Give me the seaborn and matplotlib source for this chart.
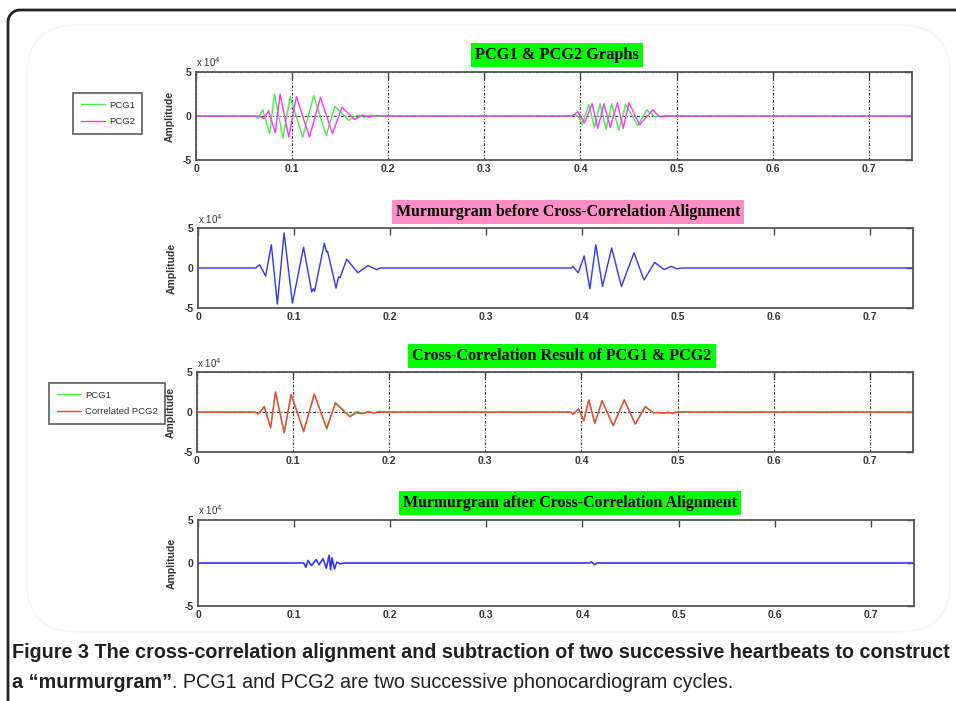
import numpy as np
import matplotlib
matplotlib.use("Agg")
import matplotlib.pyplot as plt
import seaborn as sns
from matplotlib.lines import Line2D
from matplotlib.patches import FancyBboxPatch

# ---------------- data (time in s, amplitude in x10^4) ----------------
# Panel 1: PCG1 & PCG2
pcg1_t = [0.0, 0.062, 0.0645, 0.0695, 0.0766, 0.0817, 0.0905, 0.098, 0.111, 0.1225, 0.1355,
          0.1445, 0.159, 0.168, 0.175, 0.182, 0.19, 0.195,
          0.390, 0.3938, 0.399, 0.4017, 0.4087, 0.4146, 0.4205, 0.4267, 0.4325, 0.4400,
          0.4470, 0.4597, 0.4691, 0.4771, 0.4823, 0.745]
pcg1_a = [0, 0, -0.3, 0.7, -2.0, 2.5, -2.5, 2.2, -2.4, 2.3, -2.2,
          1.1, -0.5, 0.1, -0.15, 0.1, -0.05, 0,
          0, 0.2, -0.2, -1.0, 1.3, -1.3, 1.4, -1.5, 1.4, -1.6,
          1.3, -1.1, 0.7, -0.1, 0, 0]

pcg2_t = [0.0, 0.066, 0.0705, 0.0755, 0.0825, 0.0875, 0.0965, 0.1045, 0.118, 0.1295, 0.142,
          0.152, 0.165, 0.173, 0.180, 0.188, 0.195,
          0.392, 0.3972, 0.4042, 0.4122, 0.418, 0.4245, 0.431, 0.4385, 0.4445, 0.4505,
          0.4615, 0.4753, 0.4823, 0.4892, 0.745]
pcg2_a = [0, 0, -0.3, 0.6, -1.9, 2.5, -2.4, 2.2, -2.4, 2.1, -2.0,
          1.0, -0.4, 0.1, -0.1, 0.05, 0,
          0, 0.5, -0.8, 1.4, -1.4, 1.4, -1.3, 1.5, -1.4, 1.5,
          -1.0, 0.7, -0.1, 0, 0]

# Panel 2: murmurgram before alignment
before_t = [0.0, 0.060, 0.0642, 0.0705, 0.0764, 0.0827, 0.0897, 0.0984, 0.110, 0.1185, 0.120,
            0.1215, 0.1316, 0.1340, 0.1350, 0.1438, 0.1465, 0.1480, 0.155, 0.1665, 0.177, 0.186, 0.19,
            0.389, 0.3905, 0.3962, 0.4024, 0.4083, 0.4145, 0.4215, 0.431, 0.4412, 0.4543,
            0.4647, 0.4758, 0.4855, 0.493, 0.499, 0.504, 0.745]
before_a = [0, 0, 0.4, -1.0, 2.9, -4.5, 4.4, -4.4, 2.6, -3.0, -2.6,
            -2.9, 3.1, 2.0, 2.1, -2.5, -1.1, -1.2, 1.1, -0.6, 0.3, -0.2, 0,
            0, 0.2, -0.6, 1.5, -2.6, 2.9, -2.3, 2.5, -2.3, 1.9,
            -1.5, 0.7, -0.2, 0.2, -0.1, 0, 0]

# Panel 3: PCG1 and cross-correlated PCG2
xc_t = [0.0, 0.060, 0.0635, 0.0665, 0.070, 0.0766, 0.0817, 0.0907, 0.098, 0.111, 0.122, 0.135,
        0.144, 0.159, 0.166, 0.172, 0.178, 0.184, 0.19, 0.195,
        0.389, 0.391, 0.397, 0.4024, 0.4076, 0.414, 0.4215, 0.433, 0.4446, 0.456, 0.4664,
        0.475, 0.48, 0.485, 0.49, 0.495, 0.50, 0.505, 0.745]
xc_pcg1 = [0, 0, -0.3, 0.2, 0.7, -1.9, 2.5, -2.6, 2.2, -2.5, 2.3, -2.2,
           1.2, -0.5, 0.1, -0.2, 0.1, -0.1, 0.1, 0,
           0, -0.3, 0.4, -1.1, 1.5, -1.4, 1.4, -1.7, 1.5, -1.5, 0.7,
           -0.1, 0.0, -0.2, 0, -0.2, 0.1, 0, 0]
xc_pcg2 = [0, 0, -0.2, 0.1, 0.7, -2.0, 2.5, -2.6, 2.2, -2.4, 2.2, -2.0,
           1.1, -0.6, -0.1, -0.2, 0.0, -0.1, 0.0, 0,
           0, -0.3, 0.4, -1.1, 1.5, -1.4, 1.4, -1.7, 1.5, -1.5, 0.65,
           -0.1, -0.1, -0.1, -0.1, -0.1, 0.0, 0, 0]

# Panel 4: murmurgram after alignment
after_t = [0.0, 0.110, 0.1123, 0.1145, 0.118, 0.123, 0.126, 0.130, 0.1335, 0.1365, 0.138,
           0.1395, 0.142, 0.1445, 0.148, 0.152, 0.407, 0.4095, 0.4125, 0.415, 0.745]
after_a = [0, 0, -0.5, 0.3, -0.3, 0.4, -0.2, 0.5, -0.6, 0.9, -0.8,
           0.6, -0.7, 0.1, -0.1, 0, 0, 0.15, -0.2, 0, 0]

x_ticks = [0, 0.1, 0.2, 0.3, 0.4, 0.5, 0.6, 0.7]
x_labels = ["0", "0.1", "0.2", "0.3", "0.4", "0.5", "0.6", "0.7"]
y_ticks = [-5, 0, 5]
y_labels = ["-5", "0", "5"]

titles = ["PCG1 & PCG2 Graphs",
          "Murmurgram before Cross-Correlation Alignment",
          "Cross-Correlation Result of PCG1 & PCG2",
          "Murmurgram after Cross-Correlation Alignment"]
title_colors = ["#00ff00", "#ff8ec6", "#00ff00", "#00ff00"]
title_sizes = [11.8, 11.4, 11.6, 11.4]

caption_1 = "Figure 3 The cross-correlation alignment and subtraction of two successive heartbeats to construct"
caption_2a = "a \u201cmurmurgram\u201d"
caption_2b = ". PCG1 and PCG2 are two successive phonocardiogram cycles."

# ---------------- styling ----------------
sns.set_theme(style="white")
plt.rcParams["font.family"] = ["Liberation Sans", "DejaVu Sans"]

W, H = 956, 701
fig = plt.figure(figsize=(W / 100, H / 100), dpi=100)
fig.patch.set_facecolor("white")


def rect(left, top, right, bottom):
    return [left / W, 1 - bottom / H, (right - left) / W, (bottom - top) / H]


GREEN = "#44ee44"
MAGENTA = "#ff33ff"
BLUE = "#3333ff"
RED = "#ff3b3b"


def style_axes(ax, grid):
    ax.set_xlim(0, 0.745)
    ax.set_ylim(-5, 5)
    ax.set_xticks(x_ticks)
    ax.set_xticklabels(x_labels)
    ax.set_yticks(y_ticks)
    ax.set_yticklabels(y_labels)
    ax.tick_params(direction="in", top=True, right=True, length=5, width=1.0,
                   color="#444444", labelcolor="#333333", labelsize=7.5, pad=3)
    for lab in ax.get_xticklabels() + ax.get_yticklabels():
        lab.set_fontweight("bold")
    for sp in ax.spines.values():
        sp.set_color("#555555")
        sp.set_linewidth(1.3)
        sp.set_visible(True)
    if grid:
        ax.grid(True, color="#333333", linestyle=(0, (2.5, 1.5, 1, 1.5)), linewidth=0.8)
    else:
        ax.grid(False)
    ax.set_xlabel("")
    ax.set_ylabel("Amplitude", fontsize=7.5, fontweight="bold", color="#333333")
    ax.yaxis.set_label_coords(-0.03, 0.5)
    ax.text(0, 1.03, r"x 10$^{4}$", transform=ax.transAxes, fontsize=7,
            color="#333333", ha="left", va="bottom")
    ax.set_facecolor("white")


axes_px = [(196, 72, 912, 160), (198, 228, 913, 308), (197, 372, 913, 452), (198, 520, 914, 606)]
axs = [fig.add_axes(rect(*p)) for p in axes_px]

# panel 1
ax = axs[0]
sns.lineplot(x=pcg1_t, y=pcg1_a, ax=ax, color=GREEN, lw=1.0, sort=False, estimator=None)
sns.lineplot(x=pcg2_t, y=pcg2_a, ax=ax, color=MAGENTA, lw=1.0, sort=False, estimator=None)
style_axes(ax, True)
h1 = ax.lines[:2]

# panel 2
ax = axs[1]
sns.lineplot(x=before_t, y=before_a, ax=ax, color=BLUE, lw=1.0, sort=False, estimator=None)
style_axes(ax, False)

# panel 3
ax = axs[2]
sns.lineplot(x=xc_t, y=xc_pcg1, ax=ax, color=GREEN, lw=1.0, sort=False, estimator=None)
sns.lineplot(x=xc_t, y=xc_pcg2, ax=ax, color=RED, lw=1.0, sort=False, estimator=None)
style_axes(ax, True)
h3 = ax.lines[:2]

# panel 4
ax = axs[3]
sns.lineplot(x=after_t, y=after_a, ax=ax, color=BLUE, lw=1.2, sort=False, estimator=None)
style_axes(ax, False)

# titles with coloured boxes
title_pos = [(557, 55), (568, 212), (562, 356), (570, 503)]
for (cx, cy), txt, col, fs in zip(title_pos, titles, title_colors, title_sizes):
    fig.text(cx / W, 1 - cy / H, txt, ha="center", va="center", fontsize=fs,
             family=["Liberation Serif", "DejaVu Serif"], fontweight="bold", color="black",
             bbox=dict(facecolor=col, edgecolor="none", boxstyle="square,pad=0.25"))

# legends
leg_kw = dict(loc="upper left", fontsize=6.8, frameon=True, fancybox=False, borderaxespad=0,
              handlelength=2.6, handletextpad=0.4, labelspacing=0.8, borderpad=0.8,
              edgecolor="#444444")
leg1 = fig.legend(h1, ["PCG1", "PCG2"], bbox_to_anchor=(73 / W, 1 - 93 / H), **leg_kw)
leg3 = fig.legend(h3, ["PCG1", "Correlated PCG2"], bbox_to_anchor=(49 / W, 1 - 383 / H), **leg_kw)
for lg in (leg1, leg3):
    lg.get_frame().set_linewidth(1.3)
    for t in lg.get_texts():
        t.set_color("#333333")

# outer frame with rounded top-left corner (inches, 100 px per inch)
theta = np.linspace(np.pi, np.pi / 2, 20)
arc_x = 20 + 12 * np.cos(theta)
arc_y = 22 - 12 * np.sin(theta)
fx = np.concatenate([[8], arc_x, [956]]) / 100
fy = (H - np.concatenate([[701], arc_y, [10]])) / 100
fig.add_artist(Line2D(fx, fy, transform=fig.dpi_scale_trans, color="#222222", lw=2.0))

# faint inner panel outline
fig.add_artist(FancyBboxPatch((0.27, (H - 632) / 100), 9.23, 6.07,
                              boxstyle="round,pad=0,rounding_size=0.5",
                              transform=fig.dpi_scale_trans, facecolor="none",
                              edgecolor="#f6f6f6", lw=1.0, zorder=0))

# caption
cap_font = ["Liberation Sans", "DejaVu Sans"]
c1 = fig.text(12 / W, 1 - 652 / H, caption_1, ha="left", va="center", fontsize=14,
              fontweight="bold", family=cap_font, color="#231f20")
fig.canvas.draw()
w1 = c1.get_window_extent().width
size = 14 * 938 / w1
c1.set_fontsize(size)
c2 = fig.text(12 / W, 1 - 683 / H, caption_2a, ha="left", va="center", fontsize=size,
              fontweight="bold", family=cap_font, color="#231f20")
fig.canvas.draw()
x_end = c2.get_window_extent().x1
fig.text(x_end / W, 1 - 683 / H, caption_2b, ha="left", va="center", fontsize=size,
         fontweight="normal", family=cap_font, color="#231f20")

fig.savefig("out.png", dpi=100)
